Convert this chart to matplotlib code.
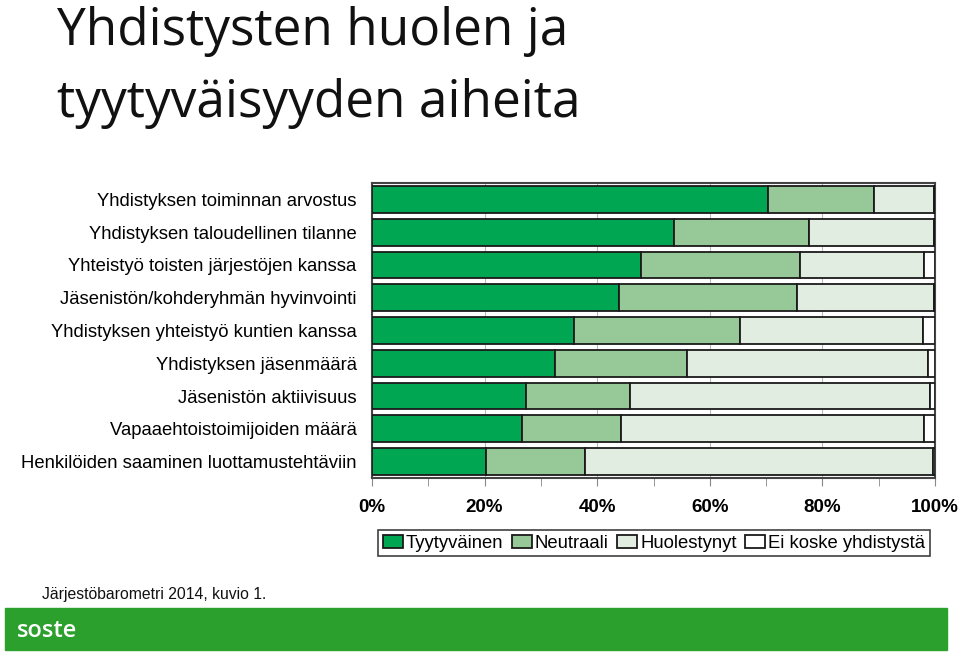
import matplotlib
matplotlib.use("Agg")
import matplotlib.pyplot as plt
import numpy as np
from matplotlib.ticker import MultipleLocator, PercentFormatter

categories = [
    "Yhdistyksen toiminnan arvostus",
    "Yhdistyksen taloudellinen tilanne",
    "Yhteistyö toisten järjestöjen kanssa",
    "Jäsenistön/kohderyhmän hyvinvointi",
    "Yhdistyksen yhteistyö kuntien kanssa",
    "Yhdistyksen jäsenmäärä",
    "Jäsenistön aktiivisuus",
    "Vapaaehtoistoimijoiden määrä",
    "Henkilöiden saaminen luottamustehtäviin",
]
series = ["Tyytyväinen", "Neutraali", "Huolestynyt", "Ei koske yhdistystä"]
tyytyvainen = [70.3, 53.6, 47.8, 43.9, 35.9, 32.5, 27.4, 26.6, 20.2]
neutraali = [18.9, 24.0, 28.2, 31.6, 29.5, 23.5, 18.4, 17.6, 17.6]
huolestynyt = [10.6, 22.2, 22.0, 24.3, 32.5, 42.8, 53.3, 53.8, 61.8]
ei_koske = [0.2, 0.2, 2.0, 0.2, 2.1, 1.2, 0.9, 2.0, 0.4]
colors = ["#00a651", "#96c997", "#e0ede0", "#ffffff"]

W, H = 960, 652
fig = plt.figure(figsize=(W / 100, H / 100), dpi=100)
plt.rcParams["font.family"] = ["Liberation Sans", "DejaVu Sans"]

# title
fig.text(57 / W, 1 - 45 / H, "Yhdistysten huolen ja", fontsize=37,
         family=["Open Sans", "DejaVu Sans"], va="baseline", color="#111")
fig.text(57 / W, 1 - 117 / H, "tyytyväisyyden aiheita", fontsize=37,
         family=["Open Sans", "DejaVu Sans"], va="baseline", color="#111")

ax = fig.add_axes([372 / W, 1 - 478 / H, 563 / W, 295 / H])
y = np.arange(len(categories))
left = np.zeros(len(categories))
handles = []
for name, vals, c in zip(series, [tyytyvainen, neutraali, huolestynyt, ei_koske], colors):
    b = ax.barh(y, vals, left=left, height=0.82, color=c, edgecolor="#1a1a1a",
                linewidth=1.3, label=name, zorder=3)
    handles.append(b)
    left += np.array(vals)

ax.set_xlim(0, 100)
ax.set_ylim(len(categories) - 0.5, -0.5)
ax.set_yticks(y)
ax.set_yticklabels(categories, fontsize=13.3)
ax.tick_params(axis="y", length=0, pad=11)
ax.xaxis.set_major_locator(MultipleLocator(20))
ax.xaxis.set_minor_locator(MultipleLocator(10))
ax.xaxis.set_major_formatter(PercentFormatter(decimals=0))
ax.tick_params(axis="x", which="both", length=6, color="#888", pad=9)
for lbl in ax.get_xticklabels():
    lbl.set_fontweight("bold")
    lbl.set_fontsize(13.5)
ax.grid(axis="x", which="major", color="#bbbbbb", linewidth=0.8, zorder=0)
for s in ax.spines.values():
    s.set_color("#444")
    s.set_linewidth(1.5)

leg = fig.legend(handles=handles, labels=series, ncol=4, loc="center",
                 bbox_to_anchor=(654 / W, 1 - 543 / H), fontsize=13.3,
                 frameon=True, fancybox=False, edgecolor="#111",
                 handlelength=1.1, handleheight=0.7, handletextpad=0.15,
                 columnspacing=0.45, borderpad=0.25, borderaxespad=0)
leg.get_frame().set_linewidth(1.2)

# footer
fig.text(42 / W, 1 - 594 / H, "Järjestöbarometri 2014, kuvio 1.", fontsize=11.3,
         va="center", color="#111")
band = plt.Rectangle((5 / W, 1 - 650 / H), 942 / W, 42 / H, transform=fig.transFigure,
                     color="#2ca02c", zorder=0)
fig.patches.append(band)
fig.text(17 / W, 1 - 631 / H, "soste", fontsize=17, color="white", va="center",
         family=["Open Sans", "DejaVu Sans"], fontweight="semibold")

fig.savefig("out.png", dpi=100)
